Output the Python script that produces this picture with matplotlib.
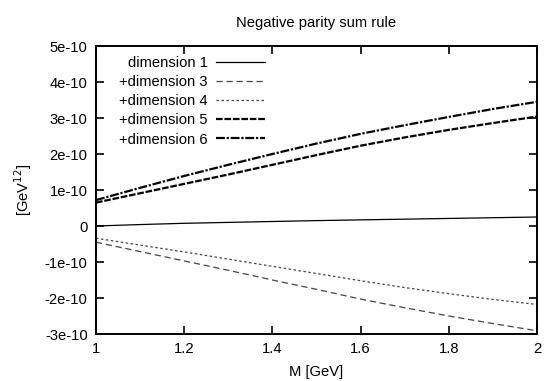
import matplotlib
matplotlib.use("Agg")
import matplotlib.pyplot as plt
from matplotlib.ticker import FuncFormatter

plt.rcParams['font.family'] = ['Liberation Sans', 'DejaVu Sans']

M = [1.0, 1.1, 1.2, 1.3, 1.4, 1.5, 1.6, 1.7, 1.8, 1.9, 2.0]
dim1 = [0.0, 0.04, 0.075, 0.10, 0.125, 0.15, 0.17, 0.19, 0.21, 0.23, 0.25]
dim3 = [-0.45, -0.71, -0.97, -1.23, -1.50, -1.76, -2.03, -2.27, -2.50, -2.71, -2.91]
dim4 = [-0.34, -0.53, -0.72, -0.92, -1.12, -1.32, -1.52, -1.71, -1.88, -2.04, -2.18]
dim5 = [0.65, 0.91, 1.17, 1.43, 1.70, 1.97, 2.23, 2.46, 2.67, 2.86, 3.04]
dim6 = [0.72, 1.06, 1.39, 1.70, 2.00, 2.29, 2.56, 2.80, 3.03, 3.25, 3.45]
scale = 1e-10

labels = ["dimension 1", "+dimension 3", "+dimension 4", "+dimension 5", "+dimension 6"]
xticks = [1, 1.2, 1.4, 1.6, 1.8, 2]
yticks = [-3e-10, -2e-10, -1e-10, 0, 1e-10, 2e-10, 3e-10, 4e-10, 5e-10]

fig = plt.figure(figsize=(5.45, 3.81), dpi=100)
ax = fig.add_axes([96/545, 1-334/381, (537-96)/545, (334-46)/381])

fs = 10.6
ax.plot(M, [v*scale for v in dim1], color='black', lw=0.9, ls='-', label=labels[0])
ax.plot(M, [v*scale for v in dim3], color='#444444', lw=0.9, ls=(0, (5, 3)), label=labels[1])
ax.plot(M, [v*scale for v in dim4], color='#444444', lw=0.9, ls=(0, (2, 2)), label=labels[2])
ax.plot(M, [v*scale for v in dim5], color='black', lw=1.6, ls=(0, (3, 0.8)), label=labels[3])
ax.plot(M, [v*scale for v in dim6], color='black', lw=1.6, ls=(0, (4, 0.8, 1, 0.8)), label=labels[4])

ax.set_xlim(1, 2)
ax.set_ylim(-3e-10, 5e-10)
ax.set_xticks(xticks)
ax.set_yticks(yticks)
ax.xaxis.set_major_formatter(FuncFormatter(lambda v, p: f"{v:g}"))
def yfmt(v, p):
    if abs(v) < 1e-20:
        return "0"
    s = f"{v:.0e}"
    m, e = s.split("e")
    return f"{m}e{int(e)}"
ax.yaxis.set_major_formatter(FuncFormatter(yfmt))
ax.tick_params(direction='in', length=6, width=1.2, top=True, right=True, labelsize=fs, pad=6)
for s in ax.spines.values():
    s.set_linewidth(1.4)

ax.set_title("Negative parity sum rule", fontsize=fs, pad=14)
ax.set_xlabel("M [GeV]", fontsize=fs, labelpad=6)
ax.set_ylabel("[GeV$^{12}$]", fontsize=fs, labelpad=8)

leg = ax.legend(loc='upper right', bbox_to_anchor=(265/545, 1-56/381),
                bbox_transform=fig.transFigure, frameon=False, markerfirst=False,
                fontsize=fs, handlelength=3.3, handletextpad=0.6, labelspacing=0.35,
                borderpad=0, borderaxespad=0)

fig.savefig("out.png", dpi=100)
